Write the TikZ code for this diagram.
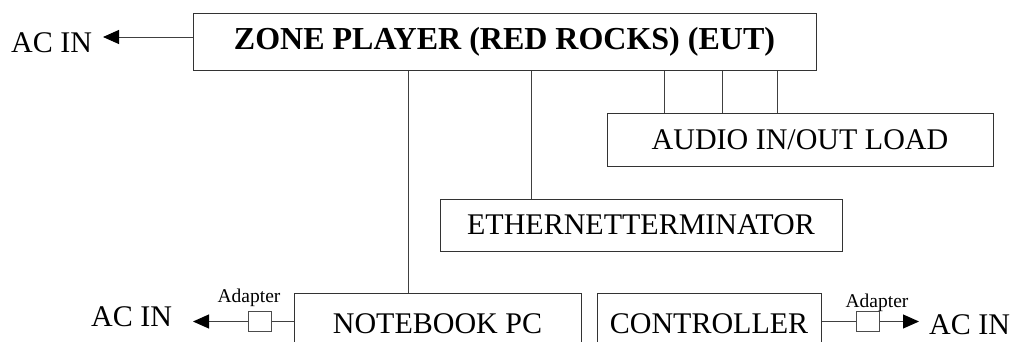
\documentclass[tikz,border=0pt]{standalone}
\usepackage{fontspec}
\setmainfont{Liberation Serif}
\usetikzlibrary{arrows.meta}
\begin{document}
\begin{tikzpicture}[x=1pt,y=-1pt,
  box/.style={draw=black!80, line width=1pt, inner sep=0pt, font=\fontsize{30}{36}\selectfont},
  conn/.style={draw=black!75, line width=1pt},
  arr/.style={conn, -{Triangle[length=16pt,width=14pt,color=black]}},
  lbl/.style={inner sep=0pt, font=\fontsize{30}{36}\selectfont},
  small/.style={inner sep=0pt, font=\fontsize{19.5}{22}\selectfont},
  adbox/.style={draw=black!70, line width=1pt, minimum width=23pt, minimum height=20pt, inner sep=0pt}]
\useasboundingbox (0,0) rectangle (1018,341);
\clip (0,0) rectangle (1018,341);
% boxes
\node[box, minimum width=623pt, minimum height=57pt, font=\fontsize{32}{38}\selectfont\bfseries] (main) at (504.5,41.5) {ZONE PLAYER (RED ROCKS) (EUT)};
\node[box, minimum width=386pt, minimum height=53pt] (audio) at (800,139.5) {AUDIO IN/OUT LOAD};
\node[box, minimum width=402pt, minimum height=52pt] (eth) at (641,225) {ETHERNETTERMINATOR};
\node[box, minimum width=287pt, minimum height=62pt] (nb) at (437.5,324) {NOTEBOOK PC};
\node[box, minimum width=224pt, minimum height=62pt] (ctrl) at (709,324) {CONTROLLER};
% adapters
\node[adbox] (ad1) at (259.5,321.5) {};
\node[adbox] (ad2) at (868,321.5) {};
\node[small, anchor=base] (adl1) at (249,302) {Adapter};
\node[small, anchor=base] (adl2) at (877,307) {Adapter};
% AC IN labels
\node[lbl, anchor=base west] (ac1) at (11,52) {AC IN};
\node[lbl, anchor=base west] (ac2) at (91,326) {AC IN};
\node[lbl, anchor=base west] (ac3) at (929,334) {AC IN};
\coordinate (t1) at (103,37);
\coordinate (t2) at (193,321.5);
\coordinate (t3) at (919,321.5);
% connectors
\draw[arr] (main.west |- t1) -- (t1);
\draw[conn] (main.south -| 664,0) -- (audio.north -| 664,0);
\draw[conn] (main.south -| 722,0) -- (audio.north -| 722,0);
\draw[conn] (main.south -| 777,0) -- (audio.north -| 777,0);
\draw[conn] (main.south -| 531,0) -- (eth.north -| 531,0);
\draw[conn] (main.south -| 408,0) -- (nb.north -| 408,0);
\draw[conn] (nb.west |- ad1) -- (ad1.east);
\draw[arr] (ad1.west) -- (t2);
\draw[conn] (ctrl.east |- ad2) -- (ad2.west);
\draw[arr] (ad2.east) -- (t3);
\end{tikzpicture}
\end{document}
